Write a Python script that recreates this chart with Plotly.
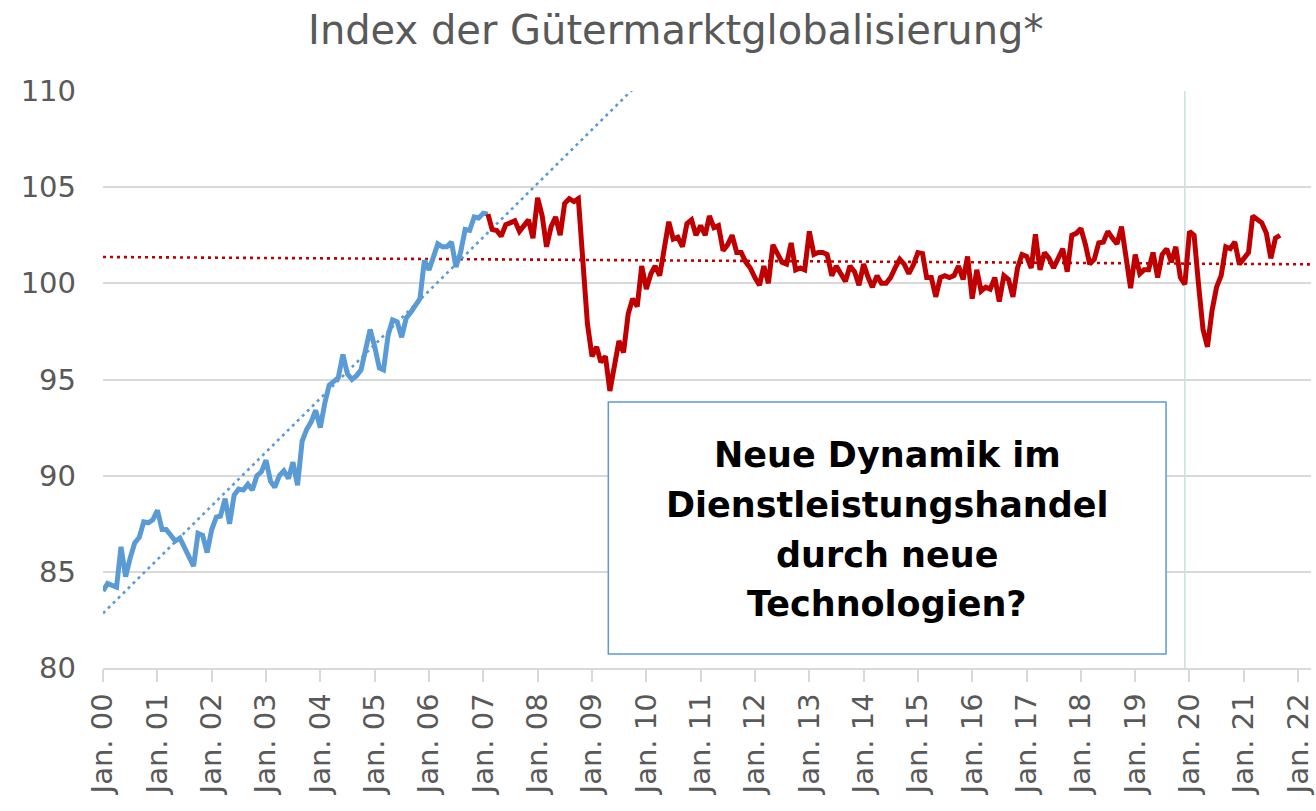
import numpy as np
import pandas as pd
import plotly.graph_objects as go

# ---- data ----
blue_start = "2000-01-01"
blue_values = [
    84.0, 84.4, 84.3, 84.2, 86.3, 84.75, 85.7, 86.5, 86.8, 87.6, 87.55, 87.7,
    88.2, 87.2, 87.2, 86.9, 86.6, 86.75, 86.3, 85.9, 85.3, 87.0, 86.9, 86.0,
    87.2, 87.85, 87.9, 88.8, 87.5, 89.0, 89.3, 89.25, 89.55, 89.25, 90.0, 90.2,
    90.8, 89.7, 89.4, 90.0, 90.25, 89.85, 90.7, 89.5, 91.8, 92.4, 92.8, 93.4,
    92.5, 93.8, 94.7, 94.9, 95.1, 96.3, 95.3, 95.0, 95.2, 95.5, 96.5, 97.6,
    96.7, 95.6, 95.5, 97.3, 98.1, 98.0, 97.2, 98.2, 98.5, 98.9, 99.2, 101.2,
    100.7, 101.4, 102.05, 101.9, 101.9, 102.15, 100.85, 101.6, 102.8, 102.75, 103.45, 103.4,
    103.65, 103.6,
]

red_start = "2007-02-01"
red_values = [
    103.6, 102.8, 102.75, 102.45, 103.05, 103.15, 103.25, 102.7, 103.0, 103.3, 102.35,
    104.45, 103.5, 101.9, 102.95, 103.45, 102.5, 104.15, 104.4, 104.25, 104.4, 101.0, 97.9,
    96.2, 96.7, 95.9, 96.2, 94.4, 95.7, 97.0, 96.4, 98.4, 99.2, 98.8, 100.9,
    99.7, 100.5, 100.9, 100.4, 101.9, 103.2, 102.3, 102.4, 101.9, 103.1, 103.3, 102.5,
    103.0, 102.5, 103.5, 102.9, 103.0, 101.7, 102.0, 102.5, 101.6, 101.6, 101.1, 100.8,
    100.3, 99.9, 100.9, 100.0, 102.0, 101.6, 101.1, 101.0, 102.1, 100.7, 100.8, 100.7,
    102.7, 101.5, 101.6, 101.6, 101.5, 100.4, 100.9, 100.5, 100.1, 100.9, 100.6, 99.9,
    101.0, 100.3, 99.8, 100.4, 100.0, 100.0, 100.3, 100.8, 101.25, 101.0, 100.5, 100.95,
    101.6, 101.55, 100.3, 100.3, 99.3, 100.3, 100.4, 100.3, 100.4, 100.9, 100.2, 101.4,
    99.2, 100.7, 99.6, 99.8, 99.7, 100.3, 99.05, 100.4, 100.2, 99.3, 100.8, 101.5,
    101.4, 100.8, 102.55, 100.7, 101.6, 101.3, 100.8, 101.3, 101.8, 100.6, 102.5, 102.6,
    102.85, 102.0, 101.0, 101.25, 102.1, 102.15, 102.7, 102.35, 102.05, 102.95, 101.4, 99.75,
    101.5, 100.5, 100.7, 100.7, 101.6, 100.3, 101.5, 101.8, 101.1, 101.9, 100.3, 99.95,
    102.7, 102.5, 100.0, 97.6, 96.7, 98.6, 99.8, 100.4, 101.9, 101.8, 102.15, 101.0,
    101.3, 101.6, 103.5, 103.3, 103.15, 102.6, 101.3, 102.35, 102.5,
]

tick_years = list(range(2000, 2023))
tick_labels = ["Jan. %02d" % (y % 100) for y in tick_years]
y_ticks = [80, 85, 90, 95, 100, 105, 110]

title_text = "Index der Gütermarktglobalisierung*"
box_lines = ["Neue Dynamik im", "Dienstleistungshandel", "durch neue", "Technologien?"]
marker_date = "2019-12-01"

# ---- derived ----
blue_dates = pd.date_range(blue_start, periods=len(blue_values), freq="MS")
red_dates = pd.date_range(red_start, periods=len(red_values), freq="MS")

origin = pd.Timestamp(blue_start)
def month_index(dates):
    return np.array([(d.year - origin.year) * 12 + (d.month - origin.month) for d in dates], float)

x_end = pd.Timestamp("2022-03-28")

# linear trend lines (Excel-style linear trendlines)
bm = month_index(blue_dates)
b_coef = np.polyfit(bm, blue_values, 1)
rm = month_index(red_dates)
r_coef = np.polyfit(rm, red_values, 1)

bt_m = np.array([0, 130])
bt_dates = [origin + pd.DateOffset(months=int(m)) for m in bt_m]
bt_vals = np.polyval(b_coef, bt_m)

end_m = (x_end.year - origin.year) * 12 + (x_end.month - origin.month) + (x_end.day - 1) / 30.0
rt_m = np.array([0, end_m])
rt_dates = [origin, x_end]
rt_vals = np.polyval(r_coef, rt_m)

GRAY = "#595959"
GRID = "#D9D9D9"
BLUE = "#5B9BD5"
RED = "#C00000"
FONT = "DejaVu Sans"

fig = go.Figure()

fig.add_trace(go.Scatter(x=rt_dates, y=rt_vals, mode="lines",
                         line=dict(color=RED, width=2.6, dash="3px,4px"),
                         hoverinfo="skip", showlegend=False))
fig.add_trace(go.Scatter(x=bt_dates, y=bt_vals, mode="lines",
                         line=dict(color=BLUE, width=2.6, dash="3px,4px"),
                         hoverinfo="skip", showlegend=False))
fig.add_trace(go.Scatter(x=blue_dates, y=blue_values, mode="lines",
                         line=dict(color=BLUE, width=5), showlegend=False))
fig.add_trace(go.Scatter(x=red_dates, y=red_values, mode="lines",
                         line=dict(color=RED, width=5), showlegend=False))

# vertical marker line
fig.add_shape(type="line", xref="x", yref="paper", x0=marker_date, x1=marker_date,
              y0=0, y1=1, line=dict(color="#B9D9D2", width=1.2), layer="below")

# text box
fig.add_shape(type="rect", xref="paper", yref="paper",
              x0=0.4183, x1=0.8800, y0=0.0243, y1=0.4610,
              line=dict(color=BLUE, width=1.5), fillcolor="white", layer="above")
line_px = [455, 505, 555, 604]
for txt, py in zip(box_lines, line_px):
    fig.add_annotation(text="<b>%s</b>" % txt, xref="paper", yref="paper",
                       x=0.6494, y=(668 - py) / 577.0, xanchor="center", yanchor="middle",
                       showarrow=False, font=dict(family=FONT, size=35, color="black"))

fig.update_layout(
    width=1316, height=811,
    margin=dict(l=103, r=5, t=91, b=143, autoexpand=False),
    plot_bgcolor="white", paper_bgcolor="white",
    title=dict(text=title_text, x=0.5135, xanchor="center", y=1 - 30 / 811, yanchor="middle",
               yref="container", font=dict(family=FONT, size=40, color=GRAY)),
    font=dict(family=FONT, color=GRAY),
    showlegend=False,
)
fig.update_xaxes(
    type="date", range=[origin, x_end], automargin=False,
    tickvals=[pd.Timestamp("%d-01-01" % y) for y in tick_years], ticktext=tick_labels,
    tickangle=-90, tickfont=dict(family=FONT, size=29, color=GRAY),
    ticks="outside", ticklen=12, tickwidth=1.5, tickcolor=GRID,
    showline=True, linecolor=GRID, linewidth=1.5,
    showgrid=False, zeroline=False,
)
fig.update_yaxes(
    range=[80, 110], tickvals=y_ticks, automargin=False,
    tickfont=dict(family=FONT, size=29, color=GRAY),
    showgrid=True, gridcolor=GRID, gridwidth=1.5,
    showline=False, zeroline=False, ticks="", ticklabelstandoff=26,
)

fig.write_html("out.html", config={"displayModeBar": False},
               post_script="document.body.style.margin='0';document.body.style.overflow='hidden';")
